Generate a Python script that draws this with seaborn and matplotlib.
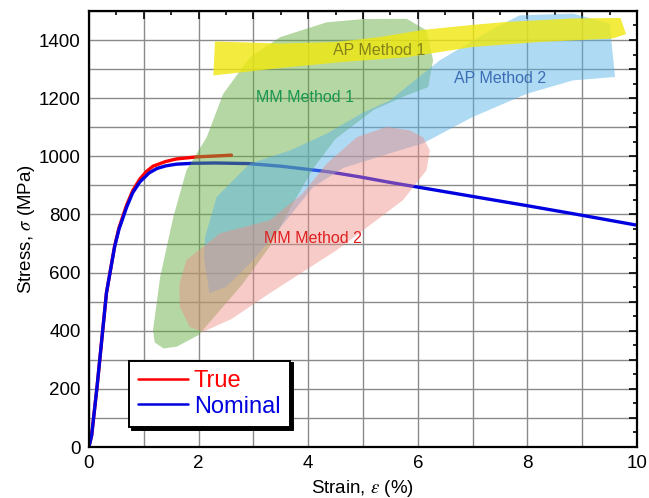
import numpy as np
import pandas as pd
import matplotlib
matplotlib.use("Agg")
import matplotlib.pyplot as plt
from matplotlib.ticker import MultipleLocator, FuncFormatter
from matplotlib.lines import Line2D
import seaborn as sns

# ---------------- data ----------------
nominal_strain = [0, 0.05, 0.15, 0.32, 0.47, 0.55, 0.69, 0.8, 0.93, 1.1, 1.24, 1.4, 1.6,
                  1.9, 2.3, 2.9, 3.5, 4.0, 4.4, 4.95, 5.5, 6.16, 7.0, 8.0, 9.0, 10.0]
nominal_stress = [0, 40, 210, 530, 690, 750, 826, 875, 912, 943, 958, 967, 973,
                  976, 977, 975, 966, 955, 946, 929, 910, 889, 862, 830, 797, 763]
true_strain = [0, 0.05, 0.15, 0.32, 0.47, 0.55, 0.69, 0.8, 0.93, 1.05, 1.17, 1.4, 1.6,
               1.97, 2.3, 2.6]
true_stress = [0, 40, 210, 530, 692, 755, 833, 882, 922, 948, 966, 982, 991,
               998, 1001, 1004]

# region outlines (strain %, stress MPa)
mm1_x = [1.36, 1.2, 1.17, 1.3, 1.54, 1.78, 2.15, 2.45, 2.94, 3.49, 4.34, 5.0, 5.8, 6.16,
         6.28, 6.19, 5.8, 5.2, 4.5, 4.1, 3.7, 3.3, 2.8, 2.0, 1.6]
mm1_y = [339, 360, 402, 585, 791, 952, 1066, 1215, 1341, 1410, 1461, 1472, 1473, 1433,
         1330, 1238, 1210, 1160, 1060, 960, 830, 690, 560, 385, 345]

ap2_x = [2.2, 2.1, 2.12, 2.33, 2.94, 3.67, 4.34, 5.0, 5.49, 6.4, 7.32, 7.86, 8.83, 9.5,
         9.6, 8.83, 7.99, 7.0, 6.1, 5.4, 4.64, 4.09, 3.6, 3.0, 2.5]
ap2_y = [530, 650, 723, 860, 975, 1020, 1078, 1150, 1192, 1330, 1433, 1485, 1491, 1457,
         1273, 1261, 1215, 1135, 1045, 1005, 960, 894, 780, 643, 550]

mm2_x = [1.66, 1.84, 2.08, 2.6, 3.3, 4.52, 5.73, 6.16, 6.22, 6.1, 5.86, 5.43, 4.89, 4.34,
         3.9, 3.3, 2.39, 1.78, 1.65]
mm2_y = [482, 413, 396, 440, 529, 677, 849, 952, 1020, 1065, 1089, 1101, 1066, 975,
         872, 780, 735, 643, 560]

ap1_x = [2.3, 3.5, 4.5, 5.3, 6.1, 7.0, 7.6, 8.8, 9.7, 9.8, 9.55, 8.2, 7.0, 5.8, 4.6, 3.4, 2.27]
ap1_y = [1395, 1388, 1393, 1410, 1435, 1452, 1462, 1474, 1476, 1420, 1405, 1393, 1376,
         1341, 1324, 1302, 1278]

labels = ["AP Method 1", "AP Method 2", "MM Method 1", "MM Method 2"]
label_x = [5.3, 7.5, 3.94, 4.09]
label_y = [1364, 1268, 1203, 718]

# ---------------- style ----------------
sns.set_theme(style="white")
plt.rcParams['font.family'] = ['Liberation Sans', 'DejaVu Sans']
plt.rcParams['mathtext.fontset'] = 'stix'
plt.rcParams['text.color'] = 'black'
plt.rcParams['axes.labelcolor'] = 'black'
plt.rcParams['xtick.color'] = 'black'
plt.rcParams['ytick.color'] = 'black'

fig = plt.figure(figsize=(6.49, 4.98), dpi=100)
ax = fig.add_axes([0.137, 0.1024, 0.8445, 0.8756])

df = pd.concat([
    pd.DataFrame({"strain": true_strain, "stress": true_stress, "type": "True"}),
    pd.DataFrame({"strain": nominal_strain, "stress": nominal_stress, "type": "Nominal"}),
])
sns.lineplot(data=df, x="strain", y="stress", hue="type", hue_order=["True", "Nominal"],
             palette={"True": "#ff0000", "Nominal": "#0000e0"}, sort=False,
             estimator=None, linewidth=2.4, ax=ax, zorder=3, legend=False)

# regions (drawn over the lines)
ax.fill(mm1_x, mm1_y, color=(0.40, 0.68, 0.26), alpha=0.48, lw=0, zorder=4)
ax.fill(ap2_x, ap2_y, color=(0.35, 0.70, 0.90), alpha=0.48, lw=0, zorder=5)
ax.fill(mm2_x, mm2_y, color=(0.93, 0.55, 0.52), alpha=0.45, lw=0, zorder=6)
ax.fill(ap1_x, ap1_y, color=(0.94, 0.91, 0.05), alpha=0.80, lw=0, zorder=7)

label_colors = ["#85821a", "#3b6db5", "#1b9650", "#e02020"]
for t, x, y, c in zip(labels, label_x, label_y, label_colors):
    ax.text(x, y, t, color=c, fontsize=11.5, ha="center", va="center", zorder=8)

ax.set_xlim(0, 10)
ax.set_ylim(0, 1500)
ax.xaxis.set_major_locator(MultipleLocator(1))
ax.xaxis.set_minor_locator(MultipleLocator(0.5))
ax.yaxis.set_major_locator(MultipleLocator(100))
ax.yaxis.set_minor_locator(MultipleLocator(50))
ax.xaxis.set_major_formatter(FuncFormatter(lambda v, p: f"{v:.0f}" if round(v) % 2 == 0 else ""))
ax.yaxis.set_major_formatter(FuncFormatter(lambda v, p: f"{v:.0f}" if round(v) % 200 == 0 else ""))
ax.tick_params(which="both", direction="in", top=True, right=True, labelsize=13.5,
               color="black", labelcolor="black", width=1.2, pad=6)
ax.tick_params(which="major", length=6)
ax.tick_params(which="minor", length=3)
ax.grid(True, which="major", color="#8a8a8a", linewidth=1.0, linestyle="-")
ax.set_axisbelow(True)
for s in ax.spines.values():
    s.set_color("black")
    s.set_linewidth(1.6)
    s.set_zorder(10)

ax.set_xlabel(r"Strain, $\varepsilon$ (%)", fontsize=13.5, labelpad=4, color="black")
ax.set_ylabel(r"Stress, $\sigma$ (MPa)", fontsize=13.5, labelpad=1, color="black")

handles = [Line2D([], [], color="#ff0000", lw=1.8), Line2D([], [], color="#0000e0", lw=1.8)]
leg = ax.legend(handles, ["True", "Nominal"], loc="upper left", bbox_to_anchor=(0.073, 0.198),
                fontsize=17, frameon=True, fancybox=False, edgecolor="black",
                shadow={"color": "black", "alpha": 1.0}, framealpha=1,
                handlelength=2.1, handletextpad=0.25, labelspacing=0.15,
                borderpad=0.4, borderaxespad=0)
leg.get_frame().set_linewidth(1.4)
for txt, col in zip(leg.get_texts(), ["#ff0000", "#0000e0"]):
    txt.set_color(col)
leg.set_zorder(20)

fig.savefig("out.png", dpi=100)
